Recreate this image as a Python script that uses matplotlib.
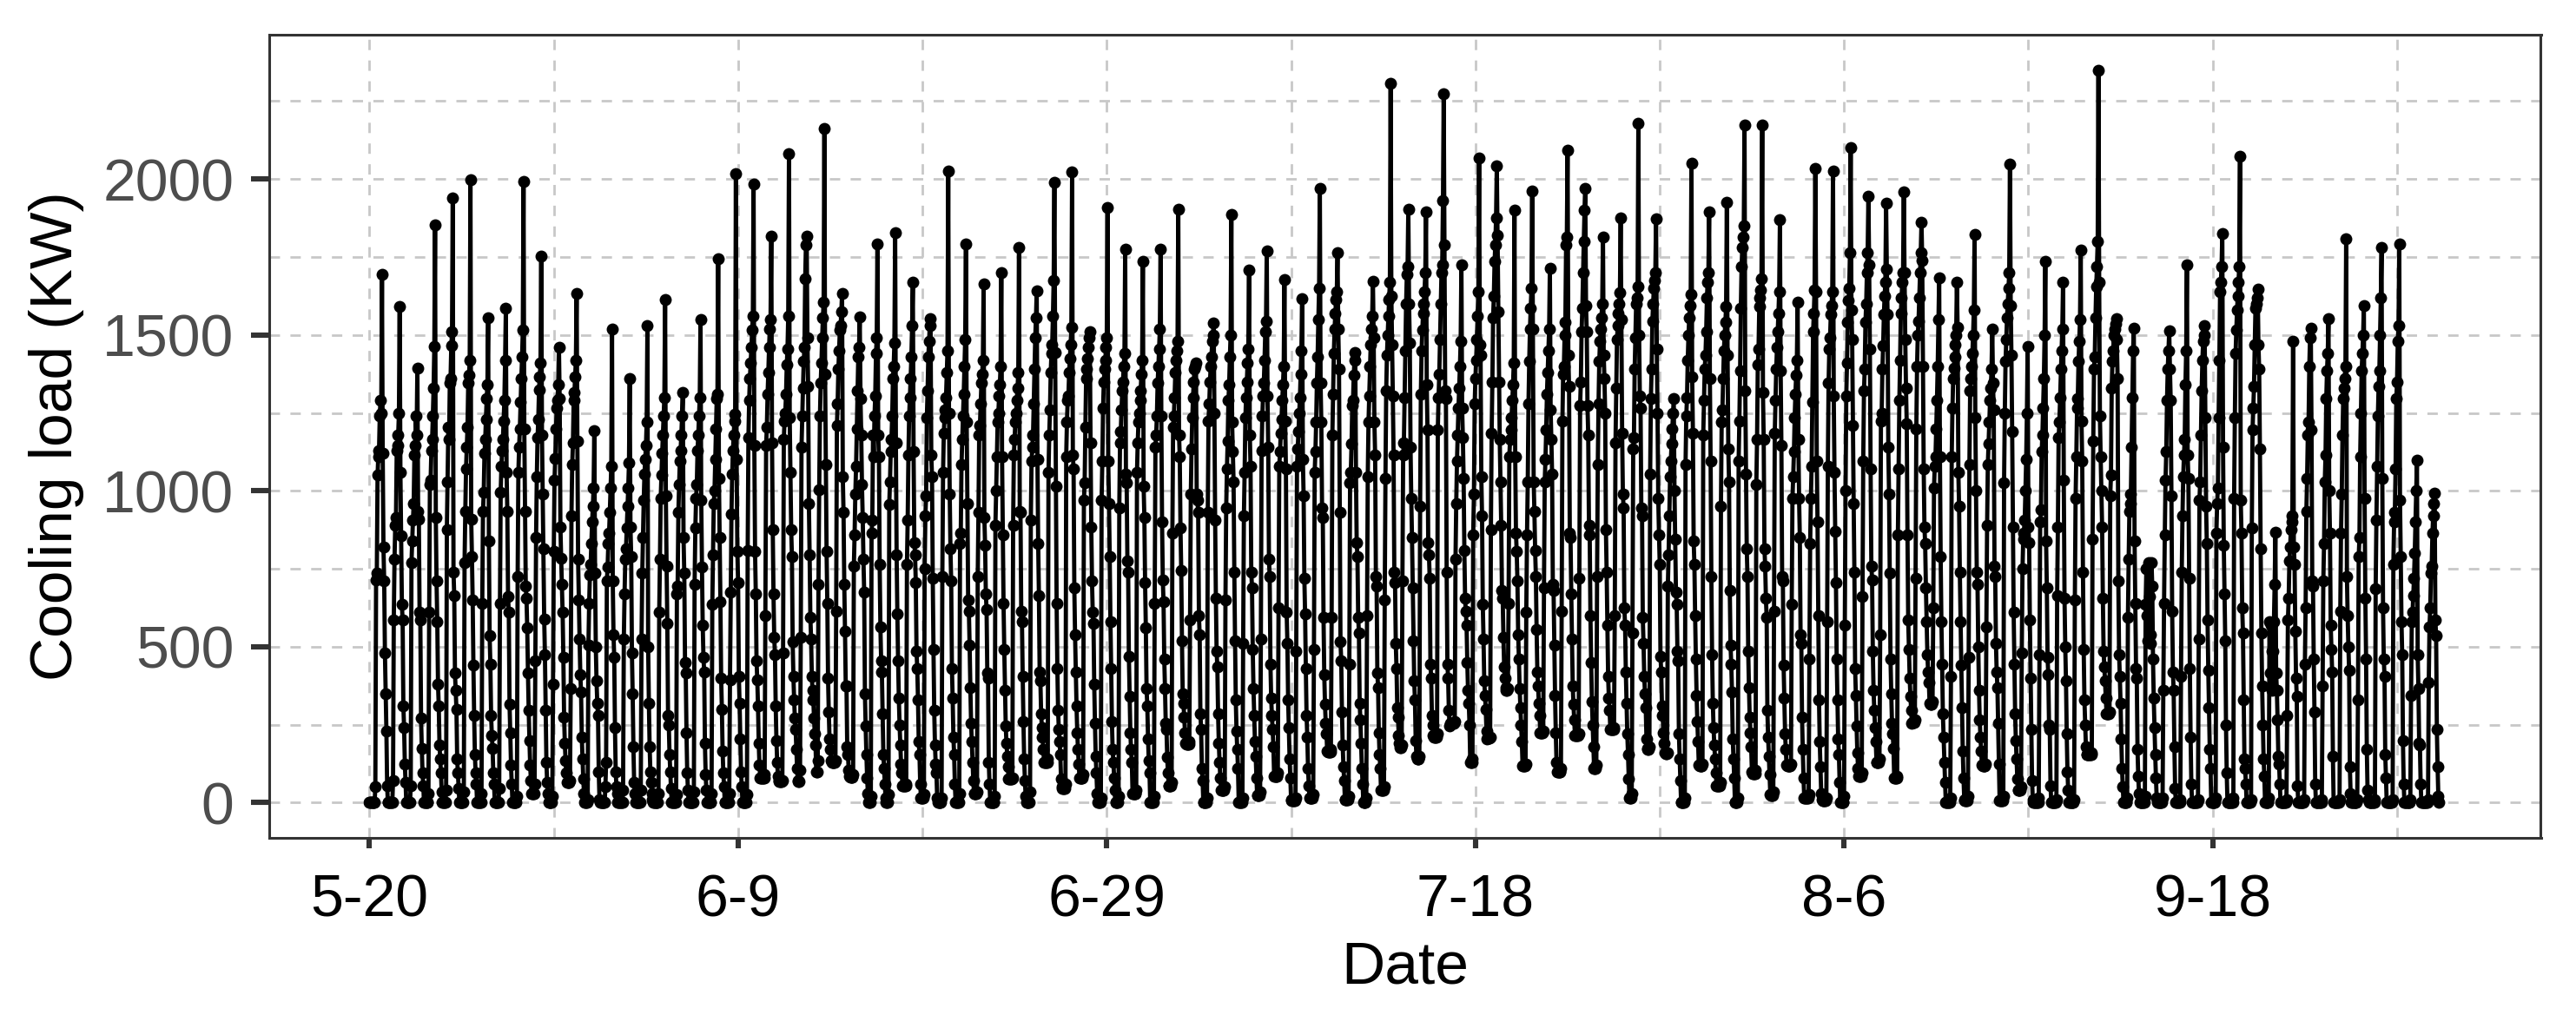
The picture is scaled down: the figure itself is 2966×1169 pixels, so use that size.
#!/usr/bin/env python3
"""
Cooling load, hourly series (24 values per row, one row per day)
Values read off the picture, those inside the dense clusters are estimates
"""

import numpy as np
import matplotlib.pyplot as plt
from matplotlib.ticker import FixedLocator, FixedFormatter

plt.rcParams['font.family'] = ['Liberation Sans', 'DejaVu Sans']

load_a = [
 [0,0,0,0,0,0,0,0, 50, 715,735,1050,1110,1130,1240,1290,1250, 1693, 1120,820,710,480,350,230],
 [55,0,0,0,0,0,0,0, 70, 585,780,890,915,1130,1145,1180,1250, 1590, 1060,855,635,585,310,240],
 [125,65,0,0,0,0,0,0, 55, 770,840,905,960,1115,1145,1240,1180, 1394, 935,910,610,585,270,175],
 [95,55,0,0,0,0,0,0, 30, 610,1020,1035,1130,1165,1240,1330,1462, 1852, 915,710,580,380,310,185],
 [140,95,35,0,0,0,0,0, 40, 875,1030,1205,1165,1345,1360,1465,1510, 1939, 740,665,415,360,300,140],
 [95,45,0,0,0,0,0,0, 35, 770,935,1070,1140,1205,1345,1370,1420, 1998, 910,790,650,440,280,155],
 [95,60,0,0,0,0,0,0, 30, 640,935,995,1120,1165,1230,1295,1340, 1555, 840,535,445,280,215,175],
 [95,60,0,0,0,0,0,0, 45, 640,995,1080,1130,1165,1225,1290,1420, 1585, 1060,935,660,610,315,225],
 [120,60,0,0,0,0,0,0, 20, 725,1060,1140,1200,1285,1360,1430,1515, 1991, 1200,935,695,655,560,415],
 [295,200,120,70,30,30,30,30, 60, 455,850,1045,1170,1230,1325,1365,1410, 1752, 1180,990,815,590,475,295],
 [130,65,30,0,0,0,0,0, 20, 380,805,1035,1105,1200,1265,1290,1340, 1461, 1295,885,785,700,610,465],
 [275,190,135,95,65,65,65,65, 70, 365,920,1085,1155,1290,1315,1365,1420, 1633, 1160,780,650,525,410,355],
 [210,140,75,30,0,0,0,0, 10, 505,640,730,765,830,900,950,1010, 1193, 735,500,390,320,280,100],
 [10,0,0,0,0,0,0,0, 50, 130,710,755,830,865,930,1010,1080, 1520, 710,540,465,240,100,50],
 [30,0,0,0,0,0,0,0, 40, 525,670,780,815,880,950,1010,1090, 1360, 885,790,480,350,180,65],
 [30,0,0,0,0,0,0,0, 40, 525,735,850,970,1055,1100,1145,1220, 1529, 500,320,180,100,65,30],
 [10,0,0,0,0,0,0,0, 30, 610,780,975,1050,1120,1180,1240,1300, 1614, 985,760,575,280,250,155],
 [100,45,0,0,0,0,0,0, 25, 670,695,930,1020,1095,1130,1180,1240, 1316, 850,735,450,415,225,95],
 [40,0,0,0,0,0,0,0, 35, 700,880,975,1020,1130,1180,1240,1300, 1549, 970,755,570,465,420,190],
 [90,40,0,0,0,0,0,0, 30, 635,795,960,1000,1100,1200,1295,1310, 1744, 1040,850,645,400,300,165],
 [95,50,0,0,0,0,0,0, 30, 395,675,925,1055,1130,1180,1225,1245, 2017, 1100,805,705,405,320,205],
 [100,50,0,0,0,0,0,0, 25, 810,1170,1290,1360,1410,1460,1515,1560, 1985, 1145,805,670,455,395,310],
 [190,120,80,80,80,80,80,80, 90, 600,1145,1205,1310,1380,1460,1520,1550, 1817, 1155,875,670,530,475,310],
]

load_b = [
 [200,130,85,70,67,67,67,67, 70, 480,1165,1225,1250,1310,1405,1455,1560, 2081, 1235,1060,875,790,515,405],
 [330,270,235,170,110,70,67,67, 105, 530,1140,1240,1330,1415,1460,1680,1790, 1817, 1490,1335,960,795,595,525],
 [405,360,330,270,220,185,100,100, 135, 700,1005,1240,1345,1410,1490,1555,1605, 2161, 1375,1085,805,640,400,290],
 [205,170,135,130,130,130,130,130, 135, 615,1210,1280,1390,1450,1515,1530,1575, 1633, 1045,930,700,550,375,375],
 [180,155,105,85,83,83,83,83, 90, 760,860,990,1080,1200,1320,1430,1460, 1558, 1295,1180,1020,915,780,675],
 [350,245,155,80,30,0,0,0, 20, 865,905,1180,1110,1240,1305,1440,1490, 1792, 1180,1110,765,565,455,420],
 [285,155,110,60,15,0,0,0, 25, 955,1030,1125,1165,1240,1360,1400,1475, 1827, 1155,795,605,455,335,250],
 [185,125,95,55,55,55,55,55, 60, 765,905,1115,1240,1300,1360,1430,1530, 1670, 1125,835,795,705,485,430],
 [330,195,155,60,15,15,15,15, 25, 750,920,985,1235,1320,1430,1480,1530, 1553, 1115,1045,720,490,295,185],
 [125,95,15,0,0,0,0,0, 15, 725,1060,1185,1235,1260,1300,1380,1450, 2027, 1250,990,815,710,430,335],
 [210,155,60,0,0,0,0,0, 30, 830,865,1085,1165,1240,1310,1400,1485, 1792, 1220,960,650,615,505,370],
 [255,195,130,70,30,30,30,30, 35, 725,930,1180,1210,1280,1345,1375,1420, 1663, 915,825,670,620,415,400],
 [130,60,0,0,0,0,0,0, 20, 890,1000,1110,1220,1250,1305,1340,1400, 1700, 1110,860,640,490,360,245],
 [190,150,115,75,75,75,75,75, 80, 890,1115,1165,1220,1250,1290,1330,1380, 1780, 935,930,615,580,405,260],
 [140,70,20,0,0,0,0,0, 35, 905,1095,1140,1180,1280,1390,1490,1555, 1642, 1100,830,665,420,390,285],
 [240,210,170,130,130,130,130,130, 140, 1060,1180,1260,1380,1440,1470,1560,1675, 1989, 1445,1015,640,430,295,235],
 [195,155,75,50,47,47,47,47, 60, 1110,1220,1290,1305,1380,1425,1470,1525, 2023, 1115,1070,690,540,420,310],
 [225,170,125,80,78,78,78,78, 90, 970,1025,1205,1360,1390,1425,1460,1490, 1511, 1155,885,710,610,575,380],
 [255,150,95,30,0,0,0,0, 15, 970,1095,1265,1350,1390,1420,1460,1490, 1909, 1095,960,790,580,430,260],
 [170,130,80,40,0,0,0,0, 20, 945,1155,1190,1260,1320,1350,1400,1440, 1775, 1055,1025,775,740,470,340],
]

load_c = [
 [225,170,130,30,28,28,28,28, 40, 1060,1155,1220,1250,1290,1320,1375,1420, 1737, 1015,915,705,560,365,310],
 [205,135,95,0,0,0,0,0, 20, 640,1140,1180,1240,1345,1400,1455,1520, 1775, 1240,900,715,645,460,365],
 [255,235,145,95,55,55,55,55, 65, 865,1205,1240,1300,1380,1420,1450,1480, 1903, 1180,1110,880,745,520,350],
 [320,275,225,190,188,188,188,188, 195, 585,990,1135,1235,1300,1350,1390,1400, 1409, 990,970,930,600,540,285],
 [235,110,70,0,0,0,0,0, 15, 930,1225,1280,1350,1400,1430,1480,1500, 1539, 1250,905,655,485,435,285],
 [190,130,80,40,40,40,40,40, 50, 650,945,1070,1160,1290,1340,1430,1500, 1887, 1220,1125,1030,740,520,330],
 [230,170,110,0,0,0,0,0, 15, 510,920,1060,1235,1300,1350,1410,1455, 1708, 1180,1080,740,690,490,365],
 [280,195,150,80,23,23,23,23, 35, 525,1130,1240,1305,1345,1420,1510,1545, 1769, 1305,1140,780,725,445,335],
 [280,235,180,85,86,86,86,86, 95, 625,1080,1125,1185,1230,1290,1340,1400, 1678, 1225,1070,610,510,330,240],
 [140,80,10,8,8,8,8,8, 15, 485,1080,1135,1190,1250,1300,1375,1450, 1616, 1100,985,720,605,430,280],
 [210,110,55,15,15,15,15,15, 25, 490,1060,1125,1220,1345,1430,1550,1650, 1969, 1345,1220,945,915,595,410],
 [315,255,220,165,164,164,164,164, 170, 595,1180,1310,1440,1520,1570,1615,1640, 1764, 1520,1390,930,515,455,290],
 [185,115,70,10,10,10,10,10, 20, 445,1025,1060,1150,1275,1290,1370,1420, 1445, 1060,835,790,595,545,320],
 [265,190,110,60,0,0,0,0, 15, 600,1045,1220,1305,1400,1470,1520,1560, 1673, 1490,1220,1115,725,695,415],
 [370,225,155,110,40,40,40,40, 50, 650,1040,1320,1435,1500,1560,1615,1670, 2308, 1625,1470,1305,1115,740,705],
 [510,430,305,275,215,190,177,177, 185, 710,1115,1155,1300,1450,1600,1695,1720, 1903, 1600,1475,1140,975,850,690],
 [520,390,330,200,150,140,140,140, 150, 950,1310,1450,1515,1570,1600,1640,1700, 1894, 1340,1195,835,795,720,445],
 [400,280,250,215,211,211,211,211, 220, 1195,1300,1375,1485,1600,1700,1725,1930, 2273, 1790,1320,1295,740,445,400],
 [295,245,255,255,255,255,255,255, 260, 780,960,1095,1180,1265,1330,1400,1480, 1725, 1265,1170,1040,810,655,615],
 [570,450,360,320,250,130,130,130, 140, 860,990,1280,1360,1420,1485,1560,1640, 2067, 1470,1435,1045,920,635,525],
]

load_d = [
 [390,345,300,230,205,206,206,206, 210, 875,1185,1350,1555,1625,1735,1790,1875, 2042, 1820,1575,1350,1165,1030,890],
 [680,655,530,435,400,370,360,360, 365, 640,1110,1165,1195,1235,1290,1340,1410, 1900, 1110,865,805,710,540,460],
 [365,305,250,195,117,117,117,117, 125, 610,860,1030,1280,1415,1520,1585,1650, 1961, 1520,1030,935,810,725,555],
 [420,375,320,280,225,223,223,223, 230, 690,1030,1100,1195,1310,1380,1450,1520, 1714, 1260,1165,1055,700,680,505],
 [345,225,130,100,100,100,100,100, 110, 615,1225,1375,1400,1500,1540,1790,1815, 2094, 1435,1335,865,850,670,525],
 [375,315,265,215,215,215,215,215, 220, 720,1275,1350,1510,1585,1700,1800,1900, 1970, 1595,1510,1275,1180,890,860],
 [600,450,325,250,180,110,110,110, 120, 725,1085,1280,1415,1480,1520,1555,1600, 1814, 1435,1360,1250,875,740,570],
 [405,335,295,235,234,234,234,234, 240, 600,1155,1330,1485,1530,1570,1600,1635, 1875, 1550,1185,990,945,625,570],
 [420,320,220,155,75,15,15,15, 30, 545,1135,1170,1390,1490,1600,1620,1655, 2178, 1500,1305,1265,945,920,595],
 [510,405,350,305,205,175,172,172, 180, 1055,1295,1390,1545,1600,1650,1675,1700, 1872, 1455,1250,975,860,765,470],
 [420,310,280,225,190,160,156,156, 160, 695,795,920,1045,1095,1150,1200,1250, 1297, 1000,845,675,635,485,455],
 [220,140,70,0,0,0,0,0, 15, 1085,1240,1300,1420,1500,1555,1595,1630, 2050, 1365,1185,840,765,600,460],
 [345,260,195,120,117,117,117,117, 125, 1180,1290,1390,1435,1510,1620,1670,1700, 1895, 1360,1095,725,475,320,240],
 [185,140,95,55,55,55,55,55, 65, 950,1220,1260,1360,1450,1500,1540,1590, 1925, 1435,1135,1030,680,505,445],
 [355,205,140,80,0,0,0,0, 15, 1095,1225,1385,1585,1720,1780,1815,1850, 2172, 1320,1055,815,725,485,370],
 [275,225,180,100,94,94,94,94, 105, 1020,1165,1405,1455,1590,1620,1645,1680, 2172, 1315,1165,815,760,655,595],
 [295,210,150,90,25,23,23,23, 35, 615,1185,1290,1390,1460,1510,1570,1640, 1869, 1385,1145,725,710,440,335],
 [220,170,120,117,117,117,117,117, 125, 635,975,1045,1125,1235,1310,1370,1420, 1605, 1165,975,850,540,510,275],
 [170,80,15,15,15,15,15,15, 25, 460,830,975,1080,1285,1510,1570,1645, 2034, 1640,1095,900,600,330,195],
]

load_e = [
 [115,30,10,8,8,8,8,8, 15, 580,1080,1345,1455,1490,1565,1595,1640, 2027, 1305,1060,870,705,460,330],
 [205,155,65,0,0,0,0,0, 20, 570,1000,1305,1410,1540,1610,1650,1765, 2102, 1580,1485,1210,960,740,430],
 [345,245,160,110,85,86,86,86, 95, 660,1095,1320,1390,1540,1600,1700,1765, 1944, 1725,1455,1070,760,715,485],
 [360,295,240,195,130,130,130,130, 140, 540,1225,1250,1390,1465,1565,1625,1670, 1922, 1710,1565,1140,990,735,460],
 [350,255,220,175,80,78,78,78, 85, 860,1070,1290,1420,1570,1620,1670,1700, 1959, 1700,1485,1330,1215,860,585],
 [490,400,340,295,255,258,258,258, 265, 720,1200,1400,1500,1545,1620,1700,1765, 1862, 1740,1400,1070,885,830,690],
 [580,475,420,385,320,317,317,317, 325, 625,1010,1080,1110,1200,1290,1400,1550, 1683, 1110,790,580,445,285,210],
 [130,65,0,0,0,0,0,0, 15, 405,1110,1265,1360,1395,1430,1470,1500, 1669, 1525,1060,950,740,580,440],
 [305,165,80,10,8,8,8,8, 20, 465,1085,1320,1360,1400,1440,1500,1580, 1822, 1235,1000,740,700,500,360],
 [265,210,165,120,117,117,117,117, 125, 565,890,1085,1150,1220,1290,1330,1390, 1519, 1345,1260,760,725,510,420],
 [370,255,125,8,8,8,8,8, 20, 1025,1250,1415,1485,1555,1600,1650,1700, 2047, 1595,1435,1190,885,610,445],
 [285,200,140,75,40,40,40,40, 50, 480,750,845,865,905,1000,1100,1250, 1462, 885,835,585,400,235,70],
 [10,0,0,0,0,0,0,0, 15, 475,900,940,1125,1180,1265,1360,1500, 1737, 840,690,465,410,250,235],
 [55,0,0,0,0,0,0,0, 10, 665,885,1170,1220,1300,1390,1450,1520, 1669, 1035,655,500,390,220,100],
 [40,0,0,0,0,0,0,0, 10, 650,975,1110,1265,1295,1415,1480,1550, 1772, 1225,1095,740,490,330,250],
 [180,155,153,153,153,153,153,153, 160, 845,1160,1390,1430,1555,1655,1720,1800, 2350, 1670,1240,1110,1000,885,655],
 [485,435,390,335,285,284,284,284, 290, 985,1050,1330,1415,1450,1500,1520,1535, 1553, 1485,1360,710,475,405,320],
 [205,110,50,0,0,0,0,0, 15, 595,780,935,960,990,1140,1300,1450, 1523, 840,640,430,400,170,85],
 [30,0,0,0,0,0,0,0, 20, 635,750,600,520,770,660,540,510, 770, 695,460,335,240,155,80],
 [15,0,0,0,0,0,0,0, 15, 360,640,860,1035,1125,1290,1390,1450, 1512, 1390,1290,985,615,420,360],
]

load_f = [
 [180,45,0,0,0,0,0,0, 10, 405,740,920,1045,1115,1165,1340,1450, 1725, 1115,1040,720,430,210,60],
 [0,0,0,0,0,0,0,0, 10, 525,970,1030,1180,1320,1420,1480,1500, 1530, 1235,950,830,585,425,305],
 [170,110,0,0,0,0,0,0, 15, 865,960,1010,1235,1420,1640,1670,1720, 1825, 1140,825,670,520,250,95],
 [0,0,0,0,0,0,0,0, 15, 975,1235,1440,1515,1580,1625,1670,1720, 2072, 970,865,625,545,330,140],
 [110,60,0,0,0,0,0,0, 10, 880,1195,1265,1335,1470,1585,1600,1620, 1647, 1470,1390,1135,815,545,375],
 [250,140,85,0,0,0,0,0, 15, 580,415,570,485,360,485,580,700, 867, 415,360,265,150,125,60],
 [0,0,0,0,0,0,0,0, 10, 280,585,655,775,820,875,900,920, 1480, 820,765,550,400,340,55],
 [0,0,0,0,0,0,0,0, 10, 445,625,935,1040,1180,1220,1400,1490, 1522, 1195,710,695,460,290,60],
 [0,0,0,0,0,0,0,0, 10, 375,710,830,1030,1115,1295,1385,1440, 1553, 1000,865,570,490,420,150],
 [0,0,0,0,0,0,0,0, 10, 615,865,990,1180,1295,1330,1360,1400, 1809, 725,600,500,425,115,30],
 [0,0,0,0,0,0,0,0, 10, 330,790,850,1110,1250,1385,1440,1500, 1594, 975,655,460,170,40,10],
 [0,0,0,0,0,0,0,0, 10, 685,905,1080,1240,1335,1385,1500,1620, 1780, 1040,625,460,405,155,80],
 [0,0,0,0,0,0,0,0, 10, 765,900,930,1070,1295,1350,1480,1530, 1792, 970,790,580,475,200,60],
 [0,0,0,0,0,0,0,0, 10, 345,580,610,665,720,800,900,1000, 1098, 475,365,190,185,60,0],
 [0,0,0,0,0,0,0,0, 10, 385,565,625,735,760,865,920,960, 992, 585,535,235,115,20,0],
]

# ticks, one every 500 hours
date_ticks = [0, 500, 1000, 1500, 2000, 2500]
date_labels = ['5-20', '6-9', '6-29', '7-18', '8-6', '9-18']
load_ticks = [0, 500, 1000, 1500, 2000]

load = np.concatenate(load_a + load_b + load_c + load_d + load_e + load_f)
horas = np.arange(len(load))

fig = plt.figure(figsize=(14.83, 5.845), dpi=200)
ax = fig.add_axes([309.5 / 2966, 1 - 965 / 1169, 2616 / 2966, 925 / 1169])

ax.plot(horas, load, color='black', lw=1.75, marker='o', ms=5.0, mew=0, zorder=3, clip_on=False)

ax.set_xlim(-136.5, 2945)
ax.set_ylim(-113, 2463)

ax.xaxis.set_major_locator(FixedLocator(date_ticks))
ax.xaxis.set_major_formatter(FixedFormatter(date_labels))
ax.xaxis.set_minor_locator(FixedLocator([250, 750, 1250, 1750, 2250, 2750]))
ax.yaxis.set_major_locator(FixedLocator(load_ticks))
ax.yaxis.set_minor_locator(FixedLocator([250, 750, 1250, 1750, 2250]))

ax.grid(True, which='both', color='#C8C8C8', lw=1.0, ls=(0, (4.3, 4.3)), zorder=0)
ax.set_axisbelow(True)

for lado in ax.spines.values():
    lado.set_color('#333333')
    lado.set_linewidth(1.1)

ax.tick_params(axis='x', which='major', length=4.4, width=2.2, color='#333333', labelsize=24.5, labelcolor='black', pad=10)
ax.tick_params(axis='y', which='major', length=7.5, width=2.2, color='#333333', labelsize=24.5, labelcolor='#4D4D4D', pad=7)
ax.tick_params(which='minor', length=0)

ax.set_xlabel('Date', fontsize=25, labelpad=5)
ax.set_ylabel('Cooling load (KW)', fontsize=25, labelpad=7.5)

plt.savefig('out.png', dpi=200)
